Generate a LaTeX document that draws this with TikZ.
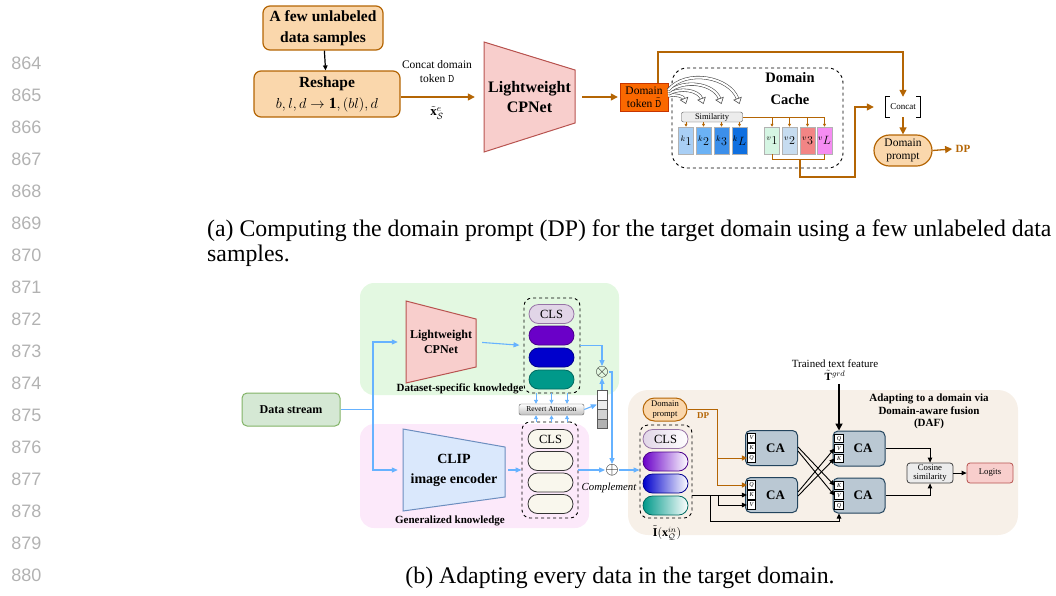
\documentclass[tikz,border=0pt]{standalone}
\usepackage{amsmath, amssymb}
\usepackage{fontspec}
\setmainfont{Liberation Serif}
\newfontfamily\numfont{Liberation Sans}
\usetikzlibrary{arrows.meta, positioning, calc, shapes.misc}

\definecolor{orfill}{HTML}{FAD7AC}
\definecolor{orline}{HTML}{B46504}
\definecolor{tokfill}{HTML}{FA6800}
\definecolor{tokline}{HTML}{C73500}
\definecolor{pinkfill}{HTML}{F8CECC}
\definecolor{pinkline}{HTML}{B85450}
\definecolor{bluefill}{HTML}{DAE8FC}
\definecolor{blueline}{HTML}{6C8EBF}
\definecolor{dsfill}{HTML}{D5E8D4}
\definecolor{dsline}{HTML}{82B366}
\definecolor{flow}{HTML}{66B2FF}
\definecolor{greenbg}{HTML}{E3F8E1}
\definecolor{pinkbg}{HTML}{FCE9FA}
\definecolor{beigebg}{HTML}{F7F0E8}
\definecolor{cafill}{HTML}{BAC8D3}
\definecolor{caline}{HTML}{23445D}
\definecolor{clsfill}{HTML}{E1D5E7}
\definecolor{clsline}{HTML}{9673A6}
\definecolor{purp}{HTML}{6A00C8}
\definecolor{deepblue}{HTML}{0000CC}
\definecolor{teal2}{HTML}{00998A}
\definecolor{plainfill}{HTML}{F9F7ED}
\definecolor{kone}{HTML}{A9CFF5}
\definecolor{ktwo}{HTML}{6BB2F5}
\definecolor{kthree}{HTML}{3C8FEA}
\definecolor{kell}{HTML}{0F6FE0}
\definecolor{vone}{HTML}{D5F5E3}
\definecolor{vtwo}{HTML}{C6DCF0}
\definecolor{vthree}{HTML}{F28585}
\definecolor{vell}{HTML}{F58CF2}

\newcommand{\fsz}[2]{\fontsize{#1}{#2}\selectfont}

\tikzset{
  orbox/.style={draw=orline, fill=orfill, line width=1.2pt, rounded corners=7pt, align=center, inner sep=0pt},
  orarrow/.style={orline, line width=1.3pt, -{Triangle[length=7pt, width=7pt]}},
  orthin/.style={orline, line width=1pt, -{Triangle[length=5pt, width=5pt]}},
  orsmall/.style={orline, line width=0.8pt, -{Triangle[length=3pt, width=3pt]}},
  flowarrow/.style={flow, line width=1.1pt, -{Triangle[length=6pt, width=5pt]}},
  flowsmall/.style={flow, line width=0.9pt, -{Triangle[length=4pt, width=4pt]}},
  blkarrow/.style={black, line width=0.9pt, -{Triangle[length=5pt, width=4.5pt]}},
  hollow/.style={gray!60!black, line width=0.6pt, double=white, double distance=2pt, -{Triangle[open, length=6pt, width=9pt]}},
  trap/.style={minimum width=#1, inner sep=0pt, align=center},
  dashbox/.style={draw, dashed, line width=0.9pt, rounded corners=8pt, inner sep=0pt},
  token/.style={rounded rectangle, line width=0.8pt, minimum width=45pt, minimum height=19pt, inner sep=0pt, font=\fsz{12.5}{14}},
  cell/.style={draw=gray!60, line width=0.5pt, minimum width=15pt, minimum height=27pt, inner sep=0pt, font=\fsz{12}{14}},
  cabox/.style={draw=caline, fill=cafill, line width=1pt, rounded corners=5pt, minimum width=52pt, minimum height=35pt, inner sep=0pt, font=\bfseries\fsz{13}{15}},
  slot/.style={draw, fill=white, line width=0.6pt, minimum size=8.5pt, inner sep=0pt, font=\itshape\fsz{6}{6}},
  smallbox/.style={draw=#1, line width=0.8pt, rounded corners=3pt, minimum width=46pt, minimum height=20pt, inner sep=0pt, align=center, font=\fsz{8.7}{9.5}},
  bg/.style={rounded corners=14pt, inner sep=0pt},
  linenum/.style={font=\numfont\fsz{18}{18}, text=gray!60, anchor=east},
  caption/.style={font=\fsz{23.8}{25}, anchor=west, inner sep=0pt},
}

\begin{document}
\begin{tikzpicture}[x=1pt, y=-1pt]
\useasboundingbox (0,0) rectangle (1056,595);

% line numbers
\foreach \n [count=\i from 0] in {864,...,880}
  \node[linenum] (ln\n) at (45,63+32*\i) {\n};

% (a) domain prompt
\node[orbox, minimum width=120pt, minimum height=44pt, font=\bfseries\fsz{15.5}{21}] (few) at (323,28) {A few unlabeled\\data samples};
\node[orbox, minimum width=146pt, minimum height=46pt, font=\bfseries\fsz{15.5}{21}] (reshape) at (327,94) {Reshape\\$b, l, d \rightarrow \mathbf{1}, (bl), d$};
\draw[blkarrow, line width=1.2pt] (few) -- (reshape);

\node[font=\fsz{11.5}{14}, align=center] (cdom) at (437,72) {Concat domain\\token $\mathtt{D}$};
\node[font=\fsz{13}{14}] (xse) at (437,113) {$\tilde{\mathbf{x}}^{e}_{\mathcal{S}}$};
\draw[draw=pinkline, fill=pinkfill, line width=1pt] (484,42) -- (575,70) -- (575,123) -- (484,152) -- cycle;
\node[trap=91pt, minimum height=53pt, font=\bfseries\fsz{16}{20}] (cpa) at (529.5,97) {Lightweight\\CPNet};
\draw[orarrow, shorten >=9pt] (reshape.east |- cpa) -- (cpa.west);

\node[draw=tokline, fill=tokfill, minimum width=48pt, minimum height=28pt, inner sep=0pt, align=center, font=\fsz{11.5}{12.5}] (dtok) at (644,97) {Domain\\token $\tilde{\mathtt{D}}$};
\draw[orarrow, shorten <=7pt, shorten >=2pt] (cpa.east) -- (dtok.west);

% domain cache
\node[dashbox, rounded corners=15pt, minimum width=171pt, minimum height=100pt] (cache) at (757.5,118) {};
\node[font=\bfseries\fsz{14.5}{22}, align=center] (cachelbl) at (790,89) {Domain\\Cache};
\node[draw=gray!60!black, fill=gray!15, rounded corners=2pt, minimum width=61pt, minimum height=10pt, inner sep=0pt, font=\fsz{8.5}{9}] (sim) at (712,117) {Similarity};
\foreach \i/\x/\c in {1/686/kone, 2/703.5/ktwo, 3/721.5/kthree, L/739.5/kell}
  \node[cell, fill=\c] (k\i) at (\x,140.5) {$^{k}\i$};
\foreach \i/\x/\c in {1/772/vone, 2/789.5/vtwo, 3/807.5/vthree, L/824.5/vell}
  \node[cell, fill=\c] (v\i) at (\x,140.5) {$^{v}\i$};
\foreach \i in {1,2,3,L}
  \draw[orsmall] (sim.south -| k\i) -- (k\i.north);
\draw[orline, line width=0.8pt] (sim.east) -- (sim.east -| vL);
\foreach \i in {1,2,3,L}
  \draw[orsmall] (sim.east -| v\i) -- (v\i.north);
\coordinate (simtop) at (0,104);
\foreach \i/\s/\o in {1/1/20, 2/3/30, 3/5/40, L/7/50}
  \draw[hollow] ([yshift=\s pt]dtok.east) to[out=\o, in=110] (k\i |- simtop);

% concat and domain prompt
\node[font=\fsz{9}{10}, minimum width=34pt, minimum height=20pt, inner sep=0pt] (cat) at (903,107) {Concat};
\draw[line width=1.1pt] ([xshift=4pt]cat.north west) -- (cat.north west) -- (cat.south west) -- ([xshift=4pt]cat.south west);
\draw[line width=1.1pt] ([xshift=-4pt]cat.north east) -- (cat.north east) -- (cat.south east) -- ([xshift=-4pt]cat.south east);
\coordinate (topturn) at (903,52);
\draw[orarrow] ([xshift=14pt]dtok.north) |- (topturn) -- (cat.north);
\draw[orline, line width=1pt] (v1.south) -- ++(0,5) -| (vL.south);
\coordinate (vmid) at (800,159);
\coordinate (vlow) at (855,177);
\draw[orarrow, shorten >=12pt] (vmid) |- (vlow) |- (cat.west);
\node[rounded rectangle, draw=orline, fill=orfill, line width=1.2pt, minimum width=58pt, minimum height=31pt, inner sep=0pt, align=center, font=\fsz{11.5}{13}] (dpa) at (903,150.5) {Domain\\prompt};
\draw[orarrow] (cat.south) -- (dpa.north);
\node[font=\bfseries\fsz{11}{12}, text=orline] (dpalbl) at (963,149) {DP};
\draw[orarrow] (dpa.east) -- (dpalbl.west);

\node[caption] (capa) at (207,231) {(a) Computing the domain prompt (DP) for the target domain using a few unlabeled data};
\node[caption] (capa2) at (207,256) {samples.};

% (b) adapting
\node[bg, fill=greenbg, minimum width=259pt, minimum height=112pt] (dsbg) at (489.5,339) {};
\node[bg, fill=pinkbg, minimum width=229pt, minimum height=104pt] (gkbg) at (474.5,476) {};
\node[bg, fill=beigebg, rounded corners=20pt, minimum width=390pt, minimum height=145pt] (dafbg) at (823,462.5) {};

\node[draw=dsline, fill=dsfill, line width=1pt, rounded corners=5pt, minimum width=98pt, minimum height=33pt, font=\bfseries\fsz{12}{14}] (data) at (291,409.5) {Data stream};

\draw[draw=pinkline, fill=pinkfill, line width=1pt] (406,301) -- (476,319) -- (476,367) -- (406,383) -- cycle;
\node[trap=70pt, minimum height=48pt, font=\bfseries\fsz{12}{15}] (cpb) at (441,342) {Lightweight\\CPNet};
\draw[draw=blueline, fill=bluefill, line width=1pt] (403,429) -- (505,447) -- (505,497) -- (403,511) -- cycle;
\node[trap=102pt, minimum height=50pt, font=\bfseries\fsz{14}{20}] (clip) at (454,470) {CLIP\\image encoder};
\node[font=\bfseries\fsz{11}{12}] (dslbl) at (460,389) {Dataset-specific knowledge};
\node[font=\bfseries\fsz{11}{12}] (gklbl) at (450,521) {Generalized knowledge};

\coordinate (split) at (373,409.5);
\draw[flow, line width=1.1pt] (data.east) -- (split);
\draw[flowarrow, shorten >=8pt] (split) |- (cpb.west);
\draw[flowarrow, shorten >=5pt] (split) |- (clip.west);

% token boxes
\node[dashbox, minimum width=56pt, minimum height=95pt] (uptok) at (552,345.5) {};
\node[token, draw=clsline, fill=clsfill] (u1) at (551.5,314) {CLS};
\foreach \i/\c/\y in {2/purp/335.5, 3/deepblue/357.5, 4/teal2/379.5}
  \node[token, draw=\c!70!black, fill=\c] (u\i) at (551.5,\y) {};
\draw[flowarrow, shorten <=6pt, shorten >=4pt] (cpb.east) -- (uptok.west);

\node[dashbox, minimum width=56pt, minimum height=96pt] (lowtok) at (550,470) {};
\node[token, draw=black!80, fill=plainfill] (l1) at (550.5,439) {CLS};
\foreach \i/\y in {2/461, 3/482.5, 4/504}
  \node[token, draw=black!80, fill=plainfill] (l\i) at (550.5,\y) {};
\draw[flowarrow, shorten <=3pt] (clip.east) -- (lowtok.west);

\node[draw=gray!70!black, top color=white, bottom color=gray!50, rounded corners=2pt, minimum width=65pt, minimum height=11pt, inner sep=0pt, font=\fsz{7.5}{8}] (ra) at (551.5,409.5) {Revert Attention};
\foreach \x in {536,551.5,567} {
  \draw[flowsmall] (uptok.south -| \x,0) -- (ra.north -| \x,0);
  \draw[flowsmall] (lowtok.north -| \x,0) -- (ra.south -| \x,0);
}
\foreach \i/\c in {0/white, 1/gray!15, 2/gray!35, 3/gray!60}
  \node[draw=gray!70!black, fill=\c, minimum width=10pt, minimum height=9.5pt, inner sep=0pt] (bar\i) at (602,395+9.5*\i) {};
\draw[flowarrow] (ra.east) -- (bar1.west);
\node[inner sep=0pt, font=\fsz{17}{17}] (otimes) at (602,372) {$\otimes$};
\node[inner sep=0pt, font=\fsz{17}{17}] (oplus) at (612,470) {$\oplus$};
\draw[flowarrow] (bar0.north) -- (otimes.south);
\draw[flowarrow] (uptok.east) -| (otimes.north);
\draw[flowarrow] (otimes.east) -| (oplus.north);
\draw[flowarrow] (lowtok.east) -- (oplus.west);
\node[font=\itshape\fsz{10.8}{12}] (compl) at (609,488) {Complement};

% domain-aware fusion
\node[dashbox, minimum width=52pt, minimum height=93pt] (itok) at (666,471.5) {};
\node[token, draw=clsline, left color=clsfill, right color=white] (i1) at (665.5,439) {CLS};
\foreach \i/\c/\y in {2/purp/461.5, 3/deepblue/483.5, 4/teal2/505.5}
  \node[token, draw=\c!70!black, left color=\c, right color=white] (i\i) at (665.5,\y) {};
\node[font=\fsz{12}{14}] (ilbl) at (667,533) {$\tilde{\mathbf{I}}(\mathbf{x}_{\mathcal{Q}}^{in})$};
\draw[flowarrow] (oplus.east) -- (oplus.east -| itok.west);

\node[rounded rectangle, draw=orline, fill=orfill, line width=1pt, minimum width=44pt, minimum height=23pt, inner sep=0pt, align=center, font=\fsz{8.6}{10}] (dpb) at (665,409.5) {Domain\\prompt};
\node[font=\bfseries\fsz{9}{10}, text=orline] (dpblbl) at (703,416) {DP};

\foreach \n/\x/\y/\a/\b/\c in {1/771.5/448/V/K/Q, 2/771.5/495/Q/K/V, 3/859/448.5/Q/V/K, 4/859/495.5/K/V/Q} {
  \node[cabox] (ca\n) at (\x,\y) {\hspace*{8pt}CA};
  \node[slot] (ca\n-1) at ([xshift=6.5pt, yshift=10pt]ca\n.west) {\a};
  \node[slot] (ca\n-2) at ([xshift=6.5pt]ca\n.west) {\b};
  \node[slot] (ca\n-3) at ([xshift=6.5pt, yshift=-10pt]ca\n.west) {\c};
}

\coordinate (dpx) at (717,0);
\draw[orthin] (dpb.east) -| (dpx |- ca1-3) -- (ca1-3.west);
\draw[orthin] (dpx |- ca1-3) |- (ca2-1.west);

\coordinate (ifeat) at (itok.east |- ca2-2);
\coordinate (br1) at (718,495);
\coordinate (br2) at (710,495);
\coordinate (bot) at (710,521);
\draw[blkarrow] (ifeat) -- (ca2-2.west);
\draw[blkarrow] (br1) |- (ca2-3.west);
\draw[blkarrow] (br2) -- (bot) -| (ca4.south -| ca4-3);

\draw[blkarrow] ([yshift=1pt]ca1.east) -- (ca4-1.west);
\draw[blkarrow] ([yshift=-3pt]ca1.east) -- (ca4-2.west);
\draw[blkarrow] ([yshift=3pt]ca2.east) -- (ca3-2.west);
\draw[blkarrow] ([yshift=-1pt]ca2.east) -- (ca3-3.west);

\node[font=\fsz{11}{13}, align=center] (txt) at (835,370) {Trained text feature\\$\tilde{\mathbf{T}}^{grd}$};
\draw[black, line width=1.6pt, -{Triangle[length=7pt, width=7pt]}] (txt.south -| ca3-1) -- (ca3.north -| ca3-1);
\node[font=\bfseries\fsz{11}{12.5}, align=center] (daflbl) at (929,411.5) {Adapting to a domain via\\Domain-aware fusion\\(DAF)};

\node[smallbox=gray!50!black, fill=gray!15] (cos) at (930,473) {Cosine\\similarity};
\node[smallbox=pinkline, fill=pinkfill] (logits) at (990,473) {Logits};
\draw[blkarrow] (ca3.east) -| (cos.north);
\draw[blkarrow] (ca4.east) -| (cos.south);
\draw[blkarrow] (cos) -- (logits);

\node[font=\fsz{23.8}{25}] (capb) at (620,578) {(b) Adapting every data in the target domain.};
\end{tikzpicture}
\end{document}
